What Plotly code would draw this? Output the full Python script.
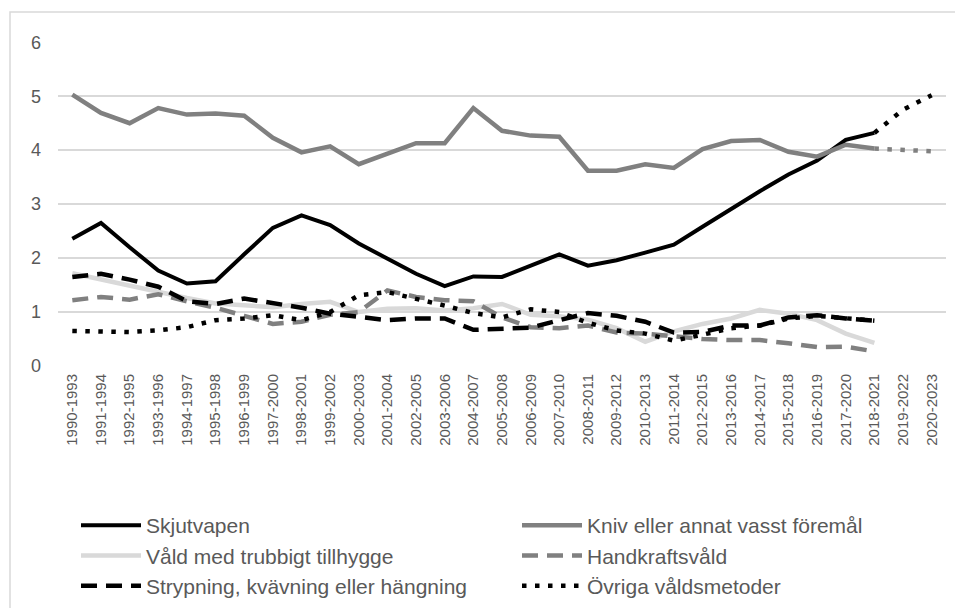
import plotly.graph_objects as go

periods = ["1990-1993", "1991-1994", "1992-1995", "1993-1996", "1994-1997", "1995-1998",
           "1996-1999", "1997-2000", "1998-2001", "1999-2002", "2000-2003", "2001-2004",
           "2002-2005", "2003-2006", "2004-2007", "2005-2008", "2006-2009", "2007-2010",
           "2008-2011", "2009-2012", "2010-2013", "2011-2014", "2012-2015", "2013-2016",
           "2014-2017", "2015-2018", "2016-2019", "2017-2020", "2018-2021", "2019-2022",
           "2020-2023"]

skjutvapen = [2.36, 2.65, 2.2, 1.77, 1.53, 1.57, 2.07, 2.56, 2.79, 2.61, 2.27, 1.98, 1.71,
              1.48, 1.66, 1.65, 1.86, 2.07, 1.86, 1.96, 2.1, 2.25, 2.58, 2.92, 3.24, 3.55,
              3.81, 4.19, 4.32]
skjutvapen_proj = [4.32, 4.75, 5.02]

kniv = [5.03, 4.69, 4.5, 4.78, 4.66, 4.68, 4.64, 4.23, 3.96, 4.07, 3.74, 3.93, 4.13, 4.13,
        4.78, 4.36, 4.27, 4.25, 3.62, 3.62, 3.74, 3.67, 4.02, 4.17, 4.19, 3.97, 3.88, 4.1, 4.03]
kniv_proj = [4.03, 4.0, 3.98]

trubbigt = [1.72, 1.6, 1.5, 1.38, 1.26, 1.16, 1.12, 1.09, 1.15, 1.19, 1.0, 1.06, 1.07, 1.03,
            1.07, 1.15, 0.95, 0.92, 0.86, 0.7, 0.45, 0.64, 0.78, 0.88, 1.04, 0.97, 0.85, 0.6, 0.43]

handkraft = [1.22, 1.28, 1.23, 1.33, 1.2, 1.08, 0.93, 0.78, 0.82, 0.95, 1.0, 1.4, 1.28, 1.22,
             1.2, 0.9, 0.72, 0.7, 0.75, 0.62, 0.6, 0.55, 0.5, 0.48, 0.48, 0.42, 0.35, 0.36, 0.27]

strypning = [1.65, 1.71, 1.6, 1.47, 1.2, 1.15, 1.25, 1.17, 1.08, 0.97, 0.92, 0.85, 0.88, 0.88,
             0.67, 0.68, 0.71, 0.85, 0.98, 0.93, 0.82, 0.62, 0.63, 0.75, 0.75, 0.9, 0.94, 0.88, 0.84]

ovriga = [0.65, 0.63, 0.63, 0.66, 0.72, 0.85, 0.88, 0.94, 0.85, 1.0, 1.31, 1.37, 1.25, 1.12,
          0.98, 0.9, 1.05, 1.0, 0.8, 0.66, 0.6, 0.47, 0.58, 0.7, 0.75, 0.88, 0.93, 0.88, 0.84]

y_ticks = [0, 1, 2, 3, 4, 5, 6]

FONT = "Liberation Sans, Arial, sans-serif"
TXT = "#595959"
DASH = "16px,9px"
DOT = "4.5px,8.5px"

n = len(skjutvapen)
x_main = periods[:n]
x_proj = periods[n - 1:]

fig = go.Figure()
fig.add_trace(go.Scatter(x=x_main, y=skjutvapen, mode="lines", name="Skjutvapen",
                         line=dict(color="#000000", width=4)))
fig.add_trace(go.Scatter(x=x_main, y=kniv, mode="lines", name="Kniv eller annat vasst föremål",
                         line=dict(color="#808080", width=4.5)))
fig.add_trace(go.Scatter(x=x_main, y=trubbigt, mode="lines", name="Våld med trubbigt tillhygge",
                         line=dict(color="#d9d9d9", width=4.5)))
fig.add_trace(go.Scatter(x=x_main, y=handkraft, mode="lines", name="Handkraftsvåld",
                         line=dict(color="#808080", width=4.5, dash=DASH)))
fig.add_trace(go.Scatter(x=x_main, y=strypning, mode="lines",
                         name="Strypning, kvävning eller hängning",
                         line=dict(color="#000000", width=4.5, dash=DASH)))
fig.add_trace(go.Scatter(x=x_main, y=ovriga, mode="lines", name="Övriga våldsmetoder",
                         line=dict(color="#000000", width=4.5, dash=DOT)))
fig.add_trace(go.Scatter(x=x_proj, y=skjutvapen_proj, mode="lines", showlegend=False,
                         line=dict(color="#000000", width=4.5, dash=DOT)))
fig.add_trace(go.Scatter(x=x_proj, y=kniv_proj, mode="lines", showlegend=False,
                         line=dict(color="#808080", width=4.5, dash=DOT)))

# the page is offset by the default 8px body margin; compensate
OFF = 8
W, H = 963, 608
plot_left, plot_right, plot_top, plot_bottom = 58 - OFF, 946 - OFF, 42 - OFF, 366 - OFF
ml, mr, mt, mb = plot_left, W - plot_right, plot_top, H - plot_bottom
pw, ph = plot_right - plot_left, plot_bottom - plot_top


def px_x(p):
    return (p - OFF - ml) / pw


def px_y(p):
    return (plot_bottom - (p - OFF)) / ph


fig.update_layout(
    template="none",
    width=W, height=H, autosize=False,
    margin=dict(l=ml, r=mr, t=mt, b=mb, pad=0, autoexpand=False),
    paper_bgcolor="white", plot_bgcolor="white",
    font=dict(family=FONT, color=TXT),
    xaxis=dict(type="category", categoryorder="array", categoryarray=periods,
               range=[-0.5, len(periods) - 0.5], showgrid=False, zeroline=False,
               showline=False, ticks="", tickangle=-90, automargin=False,
               tickfont=dict(family=FONT, size=15, color=TXT), ticklabelstandoff=4),
    yaxis=dict(range=[0, 6.005], tickvals=y_ticks, showgrid=True, gridcolor="#d9d9d9",
               gridwidth=1.5, zeroline=False, showline=False, ticks="", automargin=False,
               tickfont=dict(family=FONT, size=18, color=TXT), ticklabelstandoff=16),
    legend=dict(orientation="h", x=px_x(76), y=px_y(505), xanchor="left", yanchor="top",
                entrywidth=366, entrywidthmode="pixels", traceorder="normal",
                itemwidth=60,
                font=dict(family=FONT, size=21, color=TXT), bgcolor="rgba(0,0,0,0)"),
    shapes=[dict(type="rect", xref="paper", yref="paper",
                 x0=px_x(10), x1=px_x(975), y0=px_y(640), y1=px_y(12),
                 line=dict(color="#d9d9d9", width=1.5), fillcolor="rgba(0,0,0,0)",
                 layer="below")],
)

fig.write_html("out.html")
